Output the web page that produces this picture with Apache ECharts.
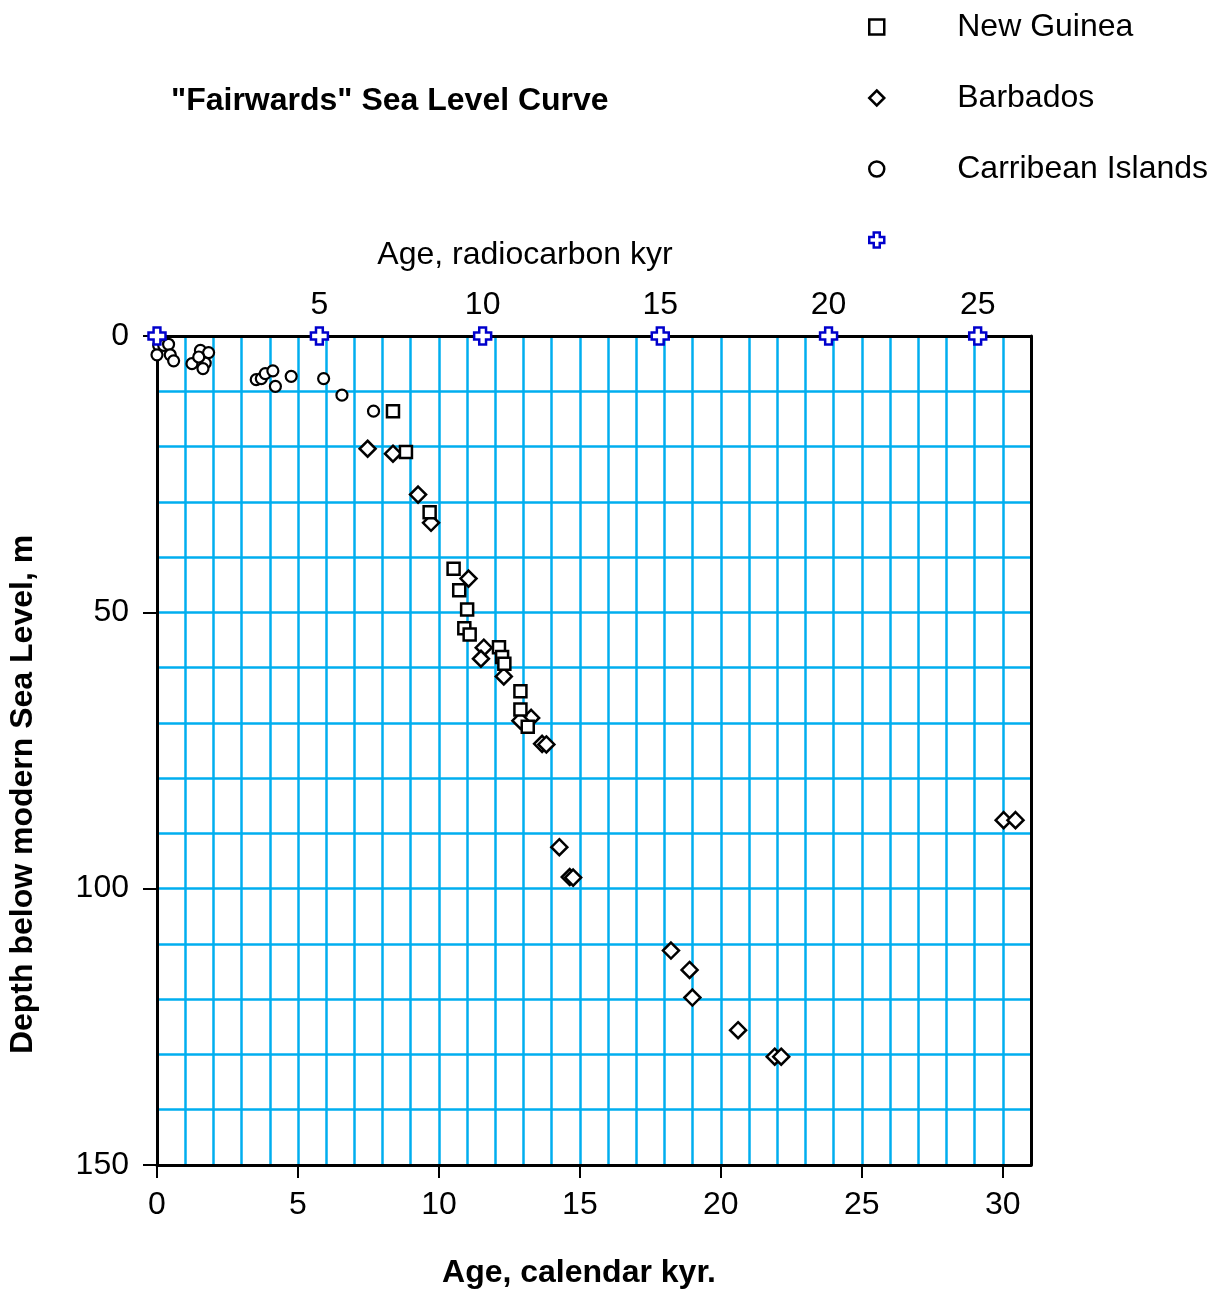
<!DOCTYPE html>
<html><head><meta charset="utf-8">
<script src="https://cdn.jsdelivr.net/npm/echarts@6/dist/echarts.min.js"></script>
<style>html,body{margin:0;padding:0;background:#fff}#chart{width:1215px;height:1291px}</style>
</head><body><div id="chart"></div>
<script>
// Age (calendar kyr), depth below modern sea level (m)
const newGuinea = [
  [8.37,13.6],[8.83,21.0],[9.67,31.9],[10.52,42.1],[10.72,46.0],[11.0,49.5],
  [10.9,52.9],[11.09,54.0],[12.13,56.3],[12.24,58.1],[12.32,59.3],[12.89,64.3],
  [12.89,67.6],[13.15,70.7]
];
const barbados = [
  [7.47,20.4],[8.37,21.3],[9.26,28.7],[9.72,33.8],[11.05,43.9],[11.59,56.4],
  [11.49,58.4],[12.3,61.6],[13.27,69.1],[12.89,69.6],[13.66,73.8],[13.81,73.9],
  [14.27,92.5],[14.64,97.9],[14.76,98.0],[18.23,111.2],[18.89,114.7],[18.99,119.7],
  [20.61,125.6],[21.91,130.4],[22.14,130.4],[30.03,87.6],[30.45,87.6]
];
const caribbean = [
  [0.06,1.7],[0.24,1.7],[0.41,1.5],[0.0,3.4],[0.47,3.4],[0.59,4.5],
  [1.24,5.0],[1.54,2.6],[1.83,3.0],[1.71,4.9],[1.63,5.9],[1.48,3.8],
  [3.52,7.9],[3.70,7.7],[3.84,6.8],[4.11,6.3],[4.20,9.1],[4.76,7.3],
  [5.91,7.7],[6.56,10.7],[7.68,13.6]
];
// Radiocarbon age marks placed at their calendar age on the top edge
const radiocarbonLabels = [0,5,10,15,20,25];
const radiocarbonCalendarAge = [0,5.76,11.55,17.85,23.82,29.11];
const xTicks = [0,5,10,15,20,25,30];
const yTicks = [0,50,100,150];

const FONT = "'Liberation Sans', Arial, sans-serif";
const FS = 32;
const GRID_BLUE = '#00AEEF';
const PLUS = 'path://M3,0L7,0L7,3L10,3L10,7L7,7L7,10L3,10L3,7L0,7L0,3L3,3Z';

const chart = echarts.init(document.getElementById('chart'), null, {renderer:'canvas'});
const option = {
  animation: false,
  backgroundColor: '#fff',
  textStyle: {fontFamily: FONT},
  title: {
    text: '"Fairwards" Sea Level Curve', left: 171, top: 85, padding: 0,
    textStyle: {fontSize: FS, fontWeight: 'bold', color: '#000', fontFamily: FONT}
  },
  legend: {
    orient: 'vertical', left: 863, top: 5, itemWidth: 15, itemHeight: 15, itemGap: 37,
    selectedMode: false,
    itemStyle: {borderWidth: 2.5},
    textStyle: {fontSize: FS, color: '#000', fontFamily: FONT, lineHeight: 34, padding: [0,0,0,68]},
    data: ['New Guinea', 'Barbados', 'Carribean Islands', ' ']
  },
  grid: {left: 157, right: 184, top: 336, bottom: 126, containLabel: false, outerBoundsMode: 'none'},
  xAxis: [{
    type: 'value', position: 'bottom', min: 0, max: 31, interval: 5,
    axisLine: {onZero: false, lineStyle: {color: '#000', width: 3}},
    axisTick: {show: true, inside: false, length: 13, customValues: xTicks, lineStyle: {color: '#000', width: 2}},
    axisLabel: {customValues: xTicks, fontSize: FS, color: '#000', margin: 24, fontFamily: FONT},
    splitLine: {show: false},
    name: 'Age, calendar kyr.', nameLocation: 'middle', nameGap: 92,
    nameTextStyle: {fontSize: FS, fontWeight: 'bold', color: '#000', fontFamily: FONT, padding: [0,30,0,0]},
    z: 3
  }, {
    type: 'value', position: 'top', min: 0, max: 31, interval: 1,
    axisLine: {onZero: false, lineStyle: {color: '#000', width: 3}},
    axisTick: {show: false}, axisLabel: {show: false},
    splitLine: {show: true, lineStyle: {color: GRID_BLUE, width: 2.5}},
    name: 'Age, radiocarbon kyr', nameLocation: 'middle', nameGap: 65,
    nameTextStyle: {fontSize: FS, color: '#000', fontFamily: FONT, padding: [0,138,0,0]},
    z: 1
  }],
  yAxis: [{
    type: 'value', position: 'left', inverse: true, min: 0, max: 150, interval: 50,
    axisLine: {onZero: false, lineStyle: {color: '#000', width: 3}},
    axisTick: {show: true, inside: false, length: 14, customValues: yTicks, lineStyle: {color: '#000', width: 2}},
    axisLabel: {customValues: yTicks, fontSize: FS, color: '#000', margin: 28, fontFamily: FONT},
    splitLine: {show: false},
    name: 'Depth below modern Sea Level, m', nameLocation: 'middle', nameGap: 118,
    nameTextStyle: {fontSize: FS, fontWeight: 'bold', color: '#000', fontFamily: FONT, padding: [0,88,0,0]},
    z: 3
  }, {
    type: 'value', position: 'right', inverse: true, min: 0, max: 150, interval: 10,
    axisLine: {onZero: false, lineStyle: {color: '#000', width: 3}},
    axisTick: {show: false}, axisLabel: {show: false},
    splitLine: {show: true, lineStyle: {color: GRID_BLUE, width: 2.5}},
    z: 1
  }],
  series: [
    {
      name: 'Barbados', type: 'scatter', data: barbados, symbol: 'diamond', symbolSize: 16, clip: false,
      itemStyle: {color: '#fff', borderColor: '#000', borderWidth: 2.5, opacity: 1}, z: 3
    },
    {
      name: 'New Guinea', type: 'scatter', data: newGuinea, symbol: 'rect', symbolSize: 12, clip: false,
      itemStyle: {color: '#fff', borderColor: '#000', borderWidth: 2.5, opacity: 1}, z: 4
    },
    {
      name: 'Carribean Islands', type: 'scatter', data: caribbean, symbol: 'circle', symbolSize: 11, clip: false,
      itemStyle: {color: '#fff', borderColor: '#000', borderWidth: 2.2, opacity: 1}, z: 5
    },
    {
      name: ' ', type: 'scatter', symbol: PLUS, symbolSize: 17, clip: false,
      data: radiocarbonCalendarAge.map((a, i) => [a, 0, radiocarbonLabels[i]]),
      itemStyle: {color: '#fff', borderColor: '#0000CC', borderWidth: 2.5, opacity: 1}, z: 6,
      label: {
        show: true, position: 'top', distance: 5, fontSize: FS, color: '#000', fontFamily: FONT,
        formatter: p => (p.value[2] === 0 ? '' : String(p.value[2]))
      }
    }
  ]
};
chart.setOption(option);
</script></body></html>
